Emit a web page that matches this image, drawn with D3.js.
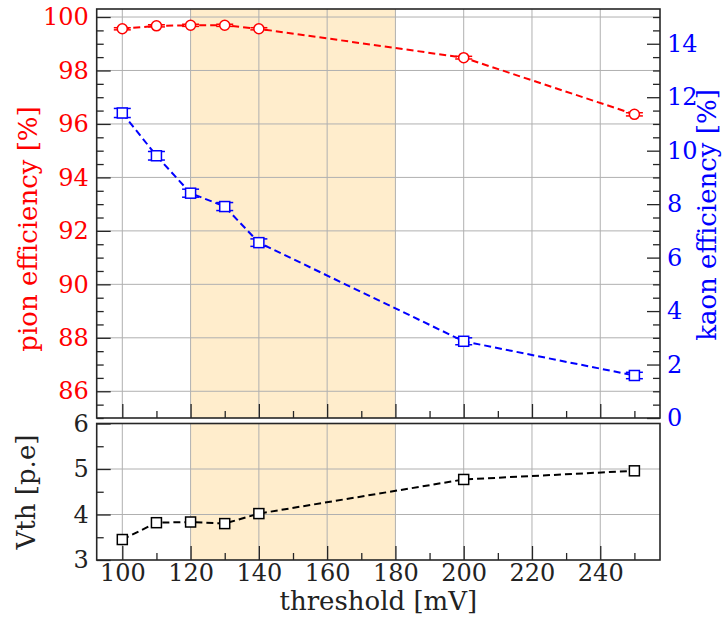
<!DOCTYPE html>
<html>
<head>
<meta charset="utf-8">
<script src="https://cdn.jsdelivr.net/npm/d3@7"></script>
<style>
  html, body { margin: 0; padding: 0; background: #fff; }
  svg { display: block; font-family: "DejaVu Serif", serif; }
</style>
</head>
<body>
<svg id="chart" width="724" height="617"></svg>
<script>
// Threshold scan: pion / kaon efficiency and Vth versus discriminator threshold
const thresholds = [100, 110, 120, 130, 140, 200, 250];
const pionEff    = [99.56, 99.67, 99.69, 99.69, 99.56, 98.48, 96.36];
const pionErr    = [0.04, 0.04, 0.04, 0.04, 0.04, 0.05, 0.06];
const kaonEff    = [11.41, 9.81, 8.41, 7.91, 6.56, 2.87, 1.59];
const kaonErr    = [0.17, 0.16, 0.15, 0.15, 0.14, 0.13, 0.12];
const vth        = [3.45, 3.82, 3.835, 3.80, 4.02, 4.77, 4.96];
const bandRange  = [120, 180];

const xTicks     = [100, 120, 140, 160, 180, 200, 220, 240];
const pionTicks  = [86, 88, 90, 92, 94, 96, 98, 100];
const kaonTicks  = [0, 2, 4, 6, 8, 10, 12, 14];
const vthTicks   = [3, 4, 5, 6];

const svg = d3.select("#chart");
const L = 96.7, R = 660;
const topT = 9, topB = 418, botT = 423.5, botB = 560;

const x  = d3.scaleLinear().domain([92.5, 257.5]).range([L, R]);
const yP = d3.scaleLinear().domain([85, 100.3]).range([topB, topT]);
const yK = d3.scaleLinear().domain([0, 15.3]).range([topB, topT]);
const yV = d3.scaleLinear().domain([3, 6]).range([botB, botT]);

const frameColor = "#262626";
const gridColor = "#b0b0b0";
const bandColor = "#ffedcc";
const fs = 24;

function range(a, b, s) { const r = []; for (let v = a; v <= b + 1e-9; v += s) r.push(+v.toFixed(3)); return r; }

function panel(yTop, yBot) {
  const g = svg.append("g");
  // shaded threshold window
  g.append("rect")
    .attr("x", x(bandRange[0])).attr("width", x(bandRange[1]) - x(bandRange[0]))
    .attr("y", yTop).attr("height", yBot - yTop)
    .attr("fill", bandColor);
  return g;
}

function grid(g, yScale, yTicks, yTop, yBot) {
  g.selectAll(null).data(xTicks).join("line")
    .attr("x1", d => x(d)).attr("x2", d => x(d))
    .attr("y1", yTop).attr("y2", yBot)
    .attr("stroke", gridColor).attr("stroke-width", 1);
  g.selectAll(null).data(yTicks).join("line")
    .attr("x1", L).attr("x2", R)
    .attr("y1", d => yScale(d)).attr("y2", d => yScale(d))
    .attr("stroke", gridColor).attr("stroke-width", 1);
}

function styleAxis(sel, color) {
  sel.attr("font-size", fs).attr("font-family", "DejaVu Serif");
  sel.select(".domain").remove();
  sel.selectAll(".tick line").attr("stroke", frameColor).attr("stroke-width", 1.3);
  sel.selectAll(".tick text").attr("fill", color);
}

// ---------- top panel ----------
const gTop = panel(topT, topB);
grid(gTop, yP, pionTicks, topT, topB);

// left (pion) axis
gTop.append("g").attr("transform", `translate(${L},0)`)
  .call(d3.axisLeft(yP).tickValues(range(85, 100, 0.5).filter(v => v % 2 !== 0)).tickSize(-7).tickFormat(""))
  .call(s => styleAxis(s, "red"));
gTop.append("g").attr("transform", `translate(${L},0)`)
  .call(d3.axisLeft(yP).tickValues(pionTicks).tickSize(-14).tickPadding(8).tickFormat(d3.format("d")))
  .call(s => styleAxis(s, "red"));

// right (kaon) axis
gTop.append("g").attr("transform", `translate(${R},0)`)
  .call(d3.axisRight(yK).tickValues(range(0, 15, 0.5).filter(v => v % 2 !== 0)).tickSize(-7).tickFormat(""))
  .call(s => styleAxis(s, "blue"));
gTop.append("g").attr("transform", `translate(${R},0)`)
  .call(d3.axisRight(yK).tickValues(kaonTicks).tickSize(-13).tickPadding(7).tickFormat(d3.format("d")))
  .call(s => styleAxis(s, "blue"));

// bottom ticks of top panel (no labels)
gTop.append("g").attr("transform", `translate(0,${topB})`)
  .call(d3.axisBottom(x).tickValues(range(110, 250, 20)).tickSize(-7).tickFormat(""))
  .call(s => styleAxis(s, "black"));
gTop.append("g").attr("transform", `translate(0,${topB})`)
  .call(d3.axisBottom(x).tickValues(xTicks).tickSize(-14).tickFormat(""))
  .call(s => styleAxis(s, "black"));

// series drawing helper: dashed line, error caps, open markers on top
function series(g, yScale, vals, errs, color, marker) {
  const pts = thresholds.map((t, i) => ({ t, v: vals[i], e: errs ? errs[i] : 0 }));
  g.append("path").datum(pts)
    .attr("d", d3.line().x(d => x(d.t)).y(d => yScale(d.v)))
    .attr("fill", "none").attr("stroke", color).attr("stroke-width", 2)
    .attr("stroke-dasharray", "7,4");
  if (errs) {
    const eb = g.selectAll(null).data(pts).join("g");
    [-1, 1].forEach(sgn => {
      eb.append("line")
        .attr("x1", d => x(d.t) - 8.5).attr("x2", d => x(d.t) + 8.5)
        .attr("y1", d => yScale(d.v + sgn * d.e)).attr("y2", d => yScale(d.v + sgn * d.e))
        .attr("stroke", color).attr("stroke-width", 1.5);
    });
  }
  if (marker === "circle") {
    g.selectAll(null).data(pts).join("circle")
      .attr("cx", d => x(d.t)).attr("cy", d => yScale(d.v)).attr("r", 5)
      .attr("fill", "white").attr("stroke", color).attr("stroke-width", 1.5);
  } else {
    g.selectAll(null).data(pts).join("rect")
      .attr("x", d => x(d.t) - 5).attr("y", d => yScale(d.v) - 5)
      .attr("width", 10).attr("height", 10)
      .attr("fill", "white").attr("stroke", color).attr("stroke-width", 1.5);
  }
}

series(gTop, yP, pionEff, pionErr, "red", "circle");
series(gTop, yK, kaonEff, kaonErr, "blue", "square");

gTop.append("rect").attr("x", L).attr("y", topT).attr("width", R - L).attr("height", topB - topT)
  .attr("fill", "none").attr("stroke", frameColor).attr("stroke-width", 1.6);

// ---------- bottom panel ----------
const gBot = panel(botT, botB);
grid(gBot, yV, [4, 5], botT, botB);

gBot.append("g").attr("transform", `translate(${L},0)`)
  .call(d3.axisLeft(yV).tickValues([3.5, 4.5, 5.5]).tickSize(-7).tickFormat(""))
  .call(s => styleAxis(s, "black"));
gBot.append("g").attr("transform", `translate(${L},0)`)
  .call(d3.axisLeft(yV).tickValues(vthTicks).tickSize(-14).tickPadding(8).tickFormat(d3.format("d")))
  .call(s => styleAxis(s, "#222"));

gBot.append("g").attr("transform", `translate(0,${botB})`)
  .call(d3.axisBottom(x).tickValues(range(110, 250, 20)).tickSize(-7).tickFormat(""))
  .call(s => styleAxis(s, "black"));
gBot.append("g").attr("transform", `translate(0,${botB})`)
  .call(d3.axisBottom(x).tickValues(xTicks).tickSize(-14).tickPadding(4).tickFormat(d3.format("d")))
  .call(s => styleAxis(s, "#222"));

series(gBot, yV, vth, null, "black", "square");

gBot.append("rect").attr("x", L).attr("y", botT).attr("width", R - L).attr("height", botB - botT)
  .attr("fill", "none").attr("stroke", frameColor).attr("stroke-width", 1.6);

// ---------- axis titles ----------
const labelFs = 26;
svg.append("text").attr("transform", `translate(37,229) rotate(-90)`)
  .attr("text-anchor", "middle").attr("fill", "red").style("font-size", labelFs + "px")
  .text("pion efficiency [%]");
svg.append("text").attr("transform", `translate(716,215) rotate(-90)`)
  .attr("text-anchor", "middle").attr("fill", "blue").style("font-size", labelFs + "px")
  .text("kaon efficiency [%]");
svg.append("text").attr("transform", `translate(35,492) rotate(-90)`)
  .attr("text-anchor", "middle").attr("fill", "#222").style("font-size", labelFs + "px")
  .text("Vth [p.e]");
svg.append("text").attr("x", (L + R) / 2).attr("y", 610)
  .attr("text-anchor", "middle").attr("fill", "#222").style("font-size", labelFs + "px")
  .text("threshold [mV]");
</script>
</body>
</html>
